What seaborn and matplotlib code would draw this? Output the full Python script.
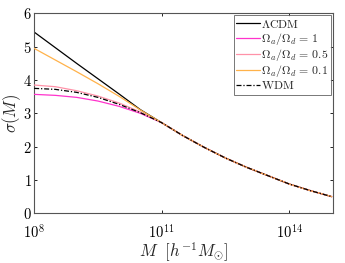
import numpy as np
import pandas as pd
import matplotlib
matplotlib.use("Agg")
import matplotlib.pyplot as plt
import seaborn as sns
from matplotlib.ticker import FixedLocator, FixedFormatter, NullLocator

# log10 of mass in h^-1 M_sun
log_mass = [8.0, 8.5, 9.0, 9.5, 10.0, 10.5, 11.0, 11.5, 12.0, 12.5, 13.0, 13.5, 14.0, 14.5, 15.0]
tail = [2.72, 2.33, 1.98, 1.66, 1.38, 1.13, 0.88, 0.68, 0.50]

sigma_lcdm = [5.44, 4.97, 4.50, 4.04, 3.58, 3.11] + tail
sigma_r1 = [3.57, 3.54, 3.48, 3.37, 3.21, 3.00] + tail
sigma_r05 = [3.85, 3.80, 3.68, 3.52, 3.31, 3.04] + tail
sigma_r01 = [4.95, 4.60, 4.25, 3.89, 3.51, 3.10] + tail
sigma_wdm = [3.75, 3.72, 3.63, 3.48, 3.27, 3.02] + tail

labels = [r'$\Lambda\mathrm{CDM}$',
          r'$\Omega_a/\Omega_d\, =\, 1$',
          r'$\Omega_a/\Omega_d\, =\, 0.5$',
          r'$\Omega_a/\Omega_d\, =\, 0.1$',
          r'$\mathrm{WDM}$']
series = [sigma_lcdm, sigma_r1, sigma_r05, sigma_r01, sigma_wdm]
colors = ['#000000', '#ff33cc', '#ff92a8', '#ffb24a', '#000000']

xticks = [1e8, 1e11, 1e14]
xticklabels = [r'$10^{8}$', r'$10^{11}$', r'$10^{14}$']
yticks = [0, 1, 2, 3, 4, 5, 6]

rows = []
for lab, vals in zip(labels, series):
    for lm, s in zip(log_mass, vals):
        rows.append({'M': 10 ** lm, 'sigma': s, 'model': lab})
df = pd.DataFrame(rows)

sns.set_style('ticks')
plt.rcParams['font.family'] = ['DejaVu Serif']
plt.rcParams['mathtext.fontset'] = 'cm'

fig = plt.figure(figsize=(3.45, 2.63), dpi=100)
ax = fig.add_axes([0.099, 0.189, 0.866, 0.760])

for i, (lab, col) in enumerate(zip(labels, colors)):
    sub = df[df['model'] == lab]
    ls = '-' if lab != labels[-1] else (0, (4, 1.5, 1, 1.5))
    sns.lineplot(data=sub, x='M', y='sigma', ax=ax, color=col, lw=0.9,
                 linestyle=ls, label=lab, zorder=2 + i)

ax.set_xscale('log')
ax.set_xlim(1e8, 10 ** 15.03)
ax.set_ylim(0, 6)
ax.xaxis.set_major_locator(FixedLocator(xticks))
ax.xaxis.set_major_formatter(FixedFormatter(xticklabels))
ax.xaxis.set_minor_locator(NullLocator())
ax.set_yticks(yticks)
ax.set_yticklabels([r'$%d$' % v for v in yticks])

ax.tick_params(direction='in', top=True, right=True, length=2.5, width=0.6,
               labelsize=10.5, colors='#000000')
ax.tick_params(axis='y', pad=1.5)
ax.tick_params(axis='x', pad=6.5)
for sp in ax.spines.values():
    sp.set_color('#555555')
    sp.set_linewidth(0.8)

ax.set_xlabel(r'$M\ \ [h^{-1}M_{\odot}]$', fontsize=12, labelpad=0.5)
ax.set_ylabel(r'$\sigma(M)$', fontsize=12, labelpad=0)

leg = ax.legend(loc='upper right', fontsize=8.5, frameon=True, fancybox=False,
                borderaxespad=0.15, handlelength=2.0, handletextpad=0.15,
                labelspacing=0.02, borderpad=0.2)
leg.get_frame().set_edgecolor('#555555')
leg.get_frame().set_linewidth(0.7)

fig.savefig('out.png', dpi=100)
